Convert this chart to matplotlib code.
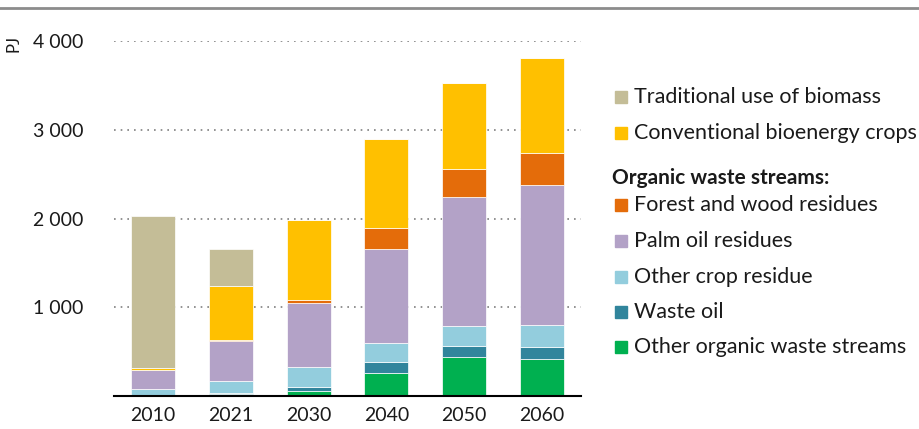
import matplotlib.pyplot as plt
from matplotlib.patches import Rectangle
from matplotlib.lines import Line2D

plt.rcParams['font.family'] = ['Lato', 'DejaVu Sans']

years = ['2010', '2021', '2030', '2040', '2050', '2060']

# PJ (bottom to top)
other_organic = [10, 20, 53, 255, 434, 412]
waste_oil = [3, 15, 52, 127, 135, 139]
other_crop = [66, 135, 221, 214, 218, 247]
palm_oil = [213, 453, 720, 1056, 1453, 1577]
forest_wood = [0, 5, 37, 239, 314, 359]
conventional = [19, 614, 900, 1008, 974, 1071]
traditional = [1717, 413, 0, 0, 0, 0]

series = [
    ('Other organic waste streams', other_organic, '#00B050'),
    ('Waste oil', waste_oil, '#31859C'),
    ('Other crop residue', other_crop, '#93CDDD'),
    ('Palm oil residues', palm_oil, '#B3A2C7'),
    ('Forest and wood residues', forest_wood, '#E46C0A'),
    ('Conventional bioenergy crops', conventional, '#FFC000'),
    ('Traditional use of biomass', traditional, '#C4BD97'),
]

fig = plt.figure(figsize=(9.19, 4.29), dpi=100)
ax = fig.add_axes([114/919, 1-396/429, 467/919, 355/429])

x = range(len(years))
bottom = [0]*len(years)
for name, vals, col in series:
    ax.bar(x, vals, 0.565, bottom=bottom, color=col, edgecolor='white', linewidth=0.5, zorder=3)
    bottom = [b+v for b, v in zip(bottom, vals)]

ax.set_xlim(-0.5, 5.5)
ax.set_ylim(0, 4000)
ax.set_yticks([1000, 2000, 3000, 4000])
ax.set_yticklabels(['1 000', '2 000', '3 000', '4 000'])
ax.set_xticks(list(x))
ax.set_xticklabels(years)
ax.tick_params(length=0, labelsize=14, colors='#1a1a1a')
ax.tick_params(axis='y', pad=22)
ax.tick_params(axis='x', pad=8)
ax.grid(axis='y', linestyle=(0, (1, 3)), color='#7f7f7f', linewidth=1.2, zorder=0)
for s in ['top', 'right', 'left']:
    ax.spines[s].set_visible(False)
ax.spines['bottom'].set_linewidth(1.5)
ax.spines['bottom'].set_zorder(4)

fig.text(14/919, 1-43/429, 'PJ', rotation=90, fontsize=12, ha='center', va='center', color='#1a1a1a')

# top rule
fig.add_artist(Line2D([0, 1], [1-8/429, 1-8/429], color='#8c8c8c', linewidth=2))

# legend drawn by hand
leg_items = [
    ('Traditional use of biomass', '#C4BD97', 97),
    ('Conventional bioenergy crops', '#FFC000', 133),
    ('Forest and wood residues', '#E46C0A', 205),
    ('Palm oil residues', '#B3A2C7', 241),
    ('Other crop residue', '#93CDDD', 277),
    ('Waste oil', '#31859C', 312),
    ('Other organic waste streams', '#00B050', 347),
]
for label, col, yy in leg_items:
    fig.patches.append(Rectangle((615/919, 1-(yy+6)/429), 12/919, 12/429,
                                 color=col, transform=fig.transFigure, figure=fig))
    fig.text(634/919, 1-yy/429, label, fontsize=15.5, va='center', ha='left', color='#1a1a1a')
fig.text(612/919, 1-178/429, 'Organic waste streams:', fontsize=15, fontweight='bold',
         va='center', ha='left', color='#1a1a1a')

fig.savefig('out.png', dpi=100)
